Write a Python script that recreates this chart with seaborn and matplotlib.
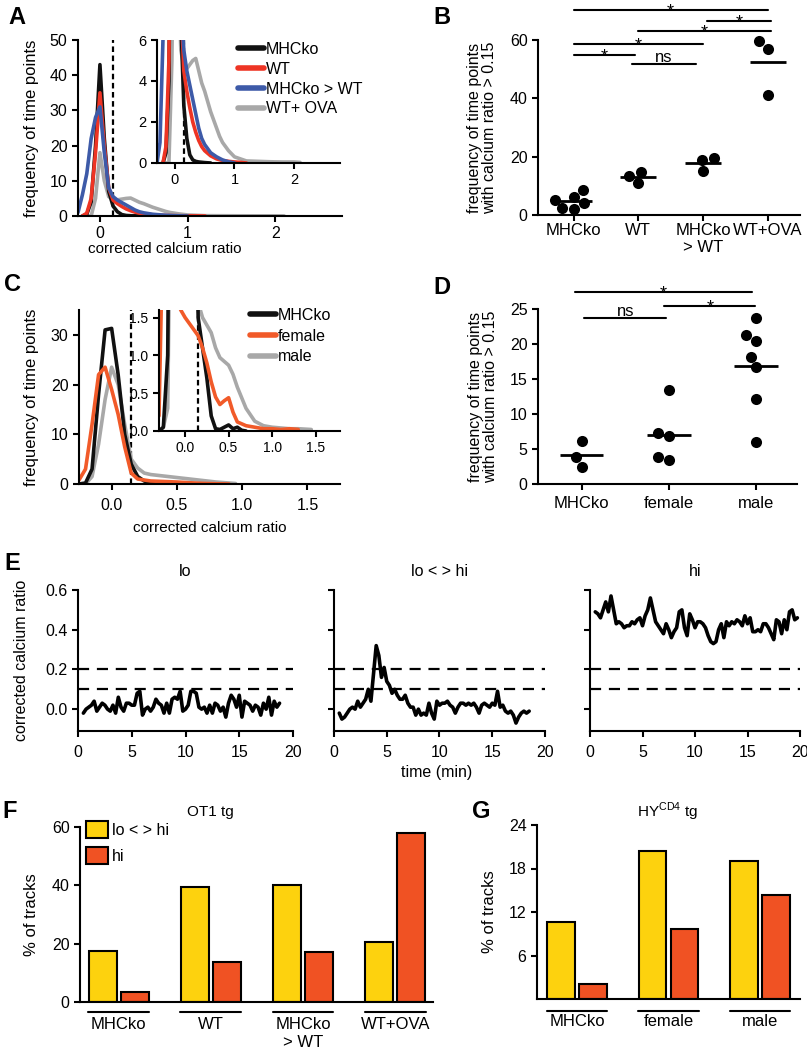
"""
Calcium-ratio figure: histograms (A, C), per-mouse frequencies (B, D),
example traces (E) and track classes (F, G).
"""
import numpy as np
import pandas as pd
import matplotlib
matplotlib.use("Agg")
import matplotlib.pyplot as plt
import matplotlib.transforms as mtransforms
from matplotlib import font_manager
from matplotlib.ticker import FormatStrFormatter
import seaborn as sns

sns.set_style("ticks")
plt.rcParams["font.family"] = ["Liberation Sans", "DejaVu Sans"]
plt.rcParams.update({
    "axes.linewidth": 1.5, "axes.edgecolor": "black",
    "xtick.color": "black", "ytick.color": "black",
    "xtick.major.width": 1.5, "ytick.major.width": 1.5,
    "xtick.major.size": 4, "ytick.major.size": 4,
    "xtick.labelsize": 11.5, "ytick.labelsize": 11.5,
    "axes.labelsize": 12, "text.color": "black", "axes.labelcolor": "black",
})
_names = {f.name for f in font_manager.fontManager.ttflist}
NARROW = ["Liberation Sans Narrow", "Liberation Sans"] if "Liberation Sans Narrow" in _names \
    else ["Liberation Sans", "DejaVu Sans"]

BLACK, RED, BLUE, GREY = "#111111", "#EE3424", "#3D5AA8", "#A8A8A8"
ORANGE, YELLOW, BARRED = "#F15A29", "#FDD20E", "#F05223"

# %% data -------------------------------------------------------------------
# A: frequency of time points (%) vs corrected calcium ratio
a_mhcko_x = [-0.2, -0.15, -0.1, -0.05, 0.0, 0.05, 0.1, 0.15, 0.2, 0.25, 0.3, 0.35, 0.4, 0.5, 0.6]
a_mhcko_y = [0, 0.5, 4, 20, 43, 22, 7, 2.8, 1.2, 0.4, 0.15, 0.08, 0.05, 0.02, 0]
a_wt_x = [-0.2, -0.15, -0.1, -0.05, 0.0, 0.05, 0.1, 0.15, 0.2, 0.25, 0.3, 0.35, 0.4, 0.45,
          0.5, 0.6, 0.7, 0.8, 0.9, 1.0, 1.1, 1.2]
a_wt_y = [0, 0.8, 5, 18, 35, 20, 8, 4.5, 3.5, 2.7, 2.0, 1.5, 1.1, 0.8,
          0.6, 0.35, 0.2, 0.12, 0.08, 0.05, 0.03, 0]
a_mix_x = [-0.3, -0.25, -0.2, -0.15, -0.1, -0.05, 0.0, 0.05, 0.1, 0.15, 0.2, 0.25, 0.3, 0.35,
           0.4, 0.45, 0.5, 0.6, 0.7, 0.8, 0.9, 1.0]
a_mix_y = [0, 1, 6, 12, 22, 28, 31, 18, 8, 5.5, 4.5, 3.8, 3.1, 2.4,
           1.7, 1.2, 0.9, 0.5, 0.3, 0.15, 0.06, 0]
a_ova_x = [-0.15, -0.1, -0.05, 0.0, 0.05, 0.1, 0.15, 0.2, 0.25, 0.3, 0.35, 0.4, 0.45, 0.5,
           0.55, 0.6, 0.65, 0.7, 0.75, 0.8, 0.9, 1.0, 1.1, 1.2, 1.4, 1.6, 1.8, 2.0, 2.1]
a_ova_y = [0, 0, 5, 18, 10, 5.5, 4.7, 4.6, 4.8, 5.0, 5.1, 4.5, 3.9, 3.5,
           3.0, 2.5, 2.1, 1.7, 1.3, 1.0, 0.6, 0.3, 0.2, 0.1, 0.08, 0.06, 0.05, 0.05, 0.03]

# B: frequency of time points with ratio > 0.15, one value per mouse
b_groups = ["MHCko", "WT", "MHCko\n> WT", "WT+OVA"]
b_mhcko = [6.2, 8.5, 4.0, 2.3, 2.0, 5.3]
b_wt = [14.7, 11.0, 13.4]
b_mix = [19.5, 15.0, 18.8]
b_ova = [59.5, 57.0, 41.0]

# C: main histogram
c_mhcko_x = [-0.25, -0.2, -0.15, -0.1, -0.05, 0.0, 0.05, 0.1, 0.15, 0.2, 0.25, 0.3, 0.35, 0.4]
c_mhcko_y = [0, 0.2, 3, 18, 31, 31.3, 22, 10, 4, 1.5, 0.6, 0.2, 0.05, 0]
c_fem_x = [-0.25, -0.2, -0.15, -0.1, -0.05, 0.0, 0.05, 0.1, 0.15, 0.2, 0.25, 0.3, 0.4,
           0.5, 0.6, 0.7, 0.8, 0.9]
c_fem_y = [0.8, 3, 12, 22, 23.5, 19, 14, 7.5, 2.2, 1.0, 0.8, 0.6, 0.5,
           0.4, 0.25, 0.12, 0.05, 0]
c_male_x = [-0.2, -0.15, -0.1, -0.05, 0.0, 0.05, 0.1, 0.15, 0.2, 0.25, 0.3, 0.4, 0.5,
            0.6, 0.7, 0.8, 0.9, 0.95]
c_male_y = [0, 1.5, 8, 17, 23.5, 20, 12, 5, 3.2, 2.2, 1.9, 1.6, 1.3,
            1.0, 0.7, 0.4, 0.2, 0.1]
# C inset (tail, finer view)
ci_mhcko_x = [-0.3, -0.25, -0.2, -0.15, -0.1, 0.0, 0.1, 0.15, 0.2, 0.25, 0.3, 0.35, 0.4,
              0.45, 0.5, 0.55, 0.6, 0.65, 0.7]
ci_mhcko_y = [0, 0.05, 1.0, 8, 20, 30, 5, 1.5, 1.1, 0.7, 0.2, 0.03, 0.02,
              0.05, 0.08, 0.03, 0.05, 0.01, 0]
ci_fem_x = [-0.3, -0.25, -0.2, -0.1, -0.05, 0.0, 0.05, 0.1, 0.15, 0.2, 0.25, 0.3, 0.35,
            0.4, 0.45, 0.5, 0.55, 0.6, 0.7, 0.8, 0.9, 1.0, 1.1, 1.2, 1.3]
ci_fem_y = [0.2, 3, 2.2, 1.75, 1.6, 1.5, 1.42, 1.34, 1.26, 1.1, 0.9, 0.65, 0.45,
            0.35, 0.4, 0.44, 0.25, 0.12, 0.07, 0.05, 0.03, 0.03, 0.02, 0.03, 0.02]
ci_male_x = [-0.3, -0.25, -0.2, -0.15, 0.1, 0.15, 0.2, 0.3, 0.35, 0.4, 0.5, 0.55, 0.6,
             0.7, 0.8, 0.9, 1.0, 1.1, 1.2, 1.3, 1.45]
ci_male_y = [0, 0.05, 0.3, 5, 3, 1.7, 1.5, 1.3, 1.1, 0.97, 0.87, 0.75, 0.58,
             0.3, 0.13, 0.07, 0.05, 0.04, 0.03, 0.03, 0.02]

# D
d_groups = ["MHCko", "female", "male"]
d_mhcko = [6.1, 3.9, 2.5]
d_female = [13.4, 7.3, 6.9, 3.4, 3.9]
d_male = [23.7, 21.3, 20.4, 18.1, 16.7, 12.1, 6.0]

# E: example traces, one sample every 15 s starting at 0.5 min
e_t0, e_dt = 0.5, 0.25
e_lo = [-0.02, 0.00, 0.01, 0.02, 0.04, -0.01, 0.01, 0.03, 0.02, 0.00,
        -0.01, 0.02, -0.02, 0.06, 0.01, -0.01, 0.03, 0.03, 0.02, 0.02,
        0.08, 0.09, -0.03, 0.00, 0.01, -0.01, 0.01, 0.05, 0.03, 0.02,
        -0.02, 0.03, -0.02, 0.05, 0.06, 0.05, 0.09, -0.01, 0.00, 0.02,
        0.09, 0.09, 0.08, 0.01, 0.00, 0.01, -0.02, 0.02, -0.02, 0.03,
        0.02, -0.01, 0.01, -0.04, 0.03, 0.07, 0.05, 0.01, 0.07, -0.04,
        0.04, 0.03, 0.02, -0.01, 0.02, 0.01, -0.03, 0.03, 0.00, 0.06,
        -0.03, 0.04, 0.01, 0.03]
e_lohi = [-0.02, -0.05, -0.04, -0.02, 0.00, 0.01, 0.00, 0.04, 0.01, 0.03,
          0.05, 0.10, 0.04, 0.18, 0.32, 0.27, 0.16, 0.21, 0.14, 0.12,
          0.08, 0.10, 0.07, 0.05, 0.05, 0.07, 0.03, 0.01, 0.01, -0.03,
          0.00, -0.03, -0.02, -0.03, 0.03, -0.02, -0.05, 0.04, 0.02, 0.03,
          0.03, 0.04, 0.02, 0.01, -0.02, 0.01, 0.03, 0.03, 0.02, 0.03,
          0.02, 0.03, 0.01, -0.02, 0.02, 0.03, 0.02, 0.01, 0.03, 0.02,
          0.09, 0.01, 0.02, -0.01, -0.02, -0.01, -0.03, -0.07, -0.04, -0.02,
          -0.01, -0.02, -0.01]
e_hi = [0.49, 0.48, 0.46, 0.50, 0.54, 0.49, 0.57, 0.50, 0.43, 0.44,
        0.43, 0.41, 0.42, 0.42, 0.44, 0.43, 0.45, 0.46, 0.42, 0.47,
        0.50, 0.56, 0.50, 0.44, 0.42, 0.40, 0.38, 0.43, 0.40, 0.36,
        0.39, 0.41, 0.49, 0.50, 0.41, 0.37, 0.48, 0.45, 0.41, 0.44,
        0.44, 0.43, 0.41, 0.37, 0.34, 0.33, 0.34, 0.40, 0.43, 0.36,
        0.44, 0.42, 0.44, 0.43, 0.45, 0.44, 0.42, 0.47, 0.43, 0.46,
        0.39, 0.39, 0.40, 0.39, 0.43, 0.43, 0.41, 0.38, 0.35, 0.45,
        0.44, 0.38, 0.45, 0.40, 0.49, 0.50, 0.45, 0.46]

# F / G: % of tracks per class
f_groups = ["MHCko", "WT", "MHCko\n> WT", "WT+OVA"]
f_lohi = [17.5, 39.5, 40.0, 20.7]
f_hi = [3.4, 13.8, 17.2, 57.9]
g_groups = ["MHCko", "female", "male"]
g_lohi = [10.6, 20.4, 19.0]
g_hi = [2.1, 9.7, 14.3]
classes = ["lo < > hi", "hi"]

# significance brackets: (x from, x to, height, mark)
b_sig = [(0, 3, 70.2, "*"), (2.06, 3.05, 66.4, "*"), (1.0, 3.05, 63.0, "*"),
         (0, 2.0, 58.6, "*"), (0, 0.95, 54.8, "*"), (0.9, 1.9, 51.7, "ns")]
d_sig = [(-0.07, 1.95, 27.4, "*"), (0.95, 1.99, 25.4, "*"), (0.03, 0.97, 23.7, "ns")]

# %% layout helpers -----------------------------------------------------------
W, H = 807, 1050
fig = plt.figure(figsize=(W / 100, H / 100), dpi=100)


def box(x0, y0, x1, y1):
    return [x0 / W, 1 - y1 / H, (x1 - x0) / W, (y1 - y0) / H]


def clean(ax):
    sns.despine(ax=ax)
    ax.tick_params(direction="out")


def letter(x, y, s):
    fig.text(x / W, 1 - y / H, s, fontsize=17, fontweight="bold", ha="left", va="center")


def hist_panel(ax, series, lw=2.6):
    for x, y, c, lab in series:
        sns.lineplot(x=x, y=y, color=c, lw=lw, ax=ax, label=lab, legend=False)
    ax.axvline(0.15, color="black", lw=1.6, ls=(0, (2.5, 1.6)), zorder=0)
    ax.set_xlabel("")
    ax.set_ylabel("")
    ax.set_facecolor("none")
    clean(ax)


def dot_panel(ax, groups, values, sig, half):
    df = pd.DataFrame({"group": sum([[g] * len(v) for g, v in zip(groups, values)], []),
                       "value": sum(values, [])})
    sns.swarmplot(data=df, x="group", y="value", order=groups, color="black",
                  size=8, linewidth=0, ax=ax)
    for coll in ax.collections:
        coll.set_clip_on(False)
    means = df.groupby("group", sort=False)["value"].mean().reindex(groups).values
    pos = np.arange(len(groups))
    ax.hlines(means, pos - half, pos + half, color="black", lw=2)
    for x0, x1, y, mark in sig:
        ax.plot([x0, x1], [y, y], color="black", lw=1.5, clip_on=False)
        if mark == "*":
            ax.annotate(mark, ((x0 + x1) / 2, y), xytext=(0, -4.5), textcoords="offset points",
                        ha="center", va="baseline", fontsize=13, annotation_clip=False)
        else:
            ax.annotate(mark, ((x0 + x1) / 2, y), xytext=(0, 1.5), textcoords="offset points",
                        ha="center", va="baseline", fontsize=12, annotation_clip=False)
    ax.set_xlabel("")
    ax.set_ylabel("frequency of time points\nwith calcium ratio > 0.15", fontsize=11.5,
                  linespacing=1.05)
    ax.tick_params(axis="x", labelsize=12)
    clean(ax)


def bar_panel(ax, groups, lohi, hi, under_y):
    df = pd.DataFrame({"group": groups * 2,
                       "class": [classes[0]] * len(groups) + [classes[1]] * len(groups),
                       "pct": lohi + hi})
    sns.barplot(data=df, x="group", y="pct", hue="class", order=groups, hue_order=classes,
                palette=[YELLOW, BARRED], saturation=1, edgecolor="black", linewidth=1.5,
                width=0.7, gap=0.13, errorbar=None, ax=ax)
    trans = mtransforms.blended_transform_factory(ax.transData, ax.transAxes)
    for i in range(len(groups)):
        ax.plot([i - 0.33, i + 0.33], [under_y, under_y], color="black", lw=1.5,
                transform=trans, clip_on=False)
    ax.tick_params(axis="x", length=0, pad=11, labelsize=12)
    ax.set_xlabel("")
    ax.set_ylabel("% of tracks", fontsize=12)
    clean(ax)


# %% A ----------------------------------------------------------------------
ax_a = fig.add_axes(box(78, 40, 342, 216))
ax_ai = fig.add_axes(box(157, 40, 340, 163))
a_series = [(a_ova_x, a_ova_y, GREY, "WT+ OVA"), (a_mhcko_x, a_mhcko_y, BLACK, "MHCko"),
            (a_wt_x, a_wt_y, RED, "WT"), (a_mix_x, a_mix_y, BLUE, "MHCko > WT")]
for ax in (ax_a, ax_ai):
    hist_panel(ax, a_series)
ax_a.set(xlim=(-0.25, 2.76), ylim=(0, 50), xticks=[0, 1, 2], yticks=range(0, 51, 10))
ax_ai.set(xlim=(-0.3, 2.77), ylim=(0, 6), xticks=[0, 1, 2], yticks=[0, 2, 4, 6])
ax_ai.tick_params(labelsize=10.5)
ax_a.tick_params(axis="x", pad=3)
ax_a.set_ylabel("frequency of time points", fontsize=12)
ax_a.yaxis.set_label_coords(-0.148, 0.5)
ax_a.set_xlabel("corrected calcium ratio", fontsize=11)
ax_a.xaxis.set_label_coords(0.33, -0.15)
ax_a.xaxis.label.set_va("top")
hd = dict(zip(*ax_a.get_legend_handles_labels()[::-1]))
a_order = ["MHCko", "WT", "MHCko > WT", "WT+ OVA"]
leg = ax_ai.legend([hd[k] for k in a_order], a_order, loc="upper left",
                   bbox_to_anchor=(238 / W, 1 - 42 / H), bbox_transform=fig.transFigure,
                   frameon=False, handlelength=1.6, handletextpad=0.15, labelspacing=0.3,
                   borderaxespad=0, borderpad=0, fontsize=11.5)
for ln in leg.get_lines():
    ln.set_linewidth(4)
letter(8, 18, "A")

# %% B ----------------------------------------------------------------------
ax_b = fig.add_axes(box(538, 40, 800, 215))
dot_panel(ax_b, b_groups, [b_mhcko, b_wt, b_mix, b_ova], b_sig, 0.28)
ax_b.set(xlim=(-0.55, 3.5), ylim=(0, 60), yticks=[0, 20, 40, 60])
ax_b.tick_params(axis="x", pad=1.5)
ax_b.yaxis.set_label_coords(-0.156, 0.5)
letter(433, 18, "B")

# %% C ----------------------------------------------------------------------
ax_c = fig.add_axes(box(79, 310, 340, 484))
ax_ci = fig.add_axes(box(159, 310, 340, 431))
hist_panel(ax_c, [(c_male_x, c_male_y, GREY, "male"), (c_mhcko_x, c_mhcko_y, BLACK, "MHCko"),
                  (c_fem_x, c_fem_y, ORANGE, "female")])
hist_panel(ax_ci, [(ci_male_x, ci_male_y, GREY, "male"),
                   (ci_mhcko_x, ci_mhcko_y, BLACK, "MHCko"),
                   (ci_fem_x, ci_fem_y, ORANGE, "female")])
ax_c.set(xlim=(-0.25, 1.75), ylim=(0, 35), xticks=[0, 0.5, 1.0, 1.5], yticks=[0, 10, 20, 30])
ax_ci.set(xlim=(-0.3, 1.78), ylim=(0, 1.6), xticks=[0, 0.5, 1.0, 1.5],
          yticks=[0, 0.5, 1.0, 1.5])
ax_c.xaxis.set_major_formatter(FormatStrFormatter("%.1f"))
ax_ci.xaxis.set_major_formatter(FormatStrFormatter("%.1f"))
ax_ci.yaxis.set_major_formatter(FormatStrFormatter("%.1f"))
ax_ci.tick_params(labelsize=10)
ax_c.tick_params(axis="x", pad=6)
ax_c.set_ylabel("frequency of time points", fontsize=12)
ax_c.yaxis.set_label_coords(-0.153, 0.5)
ax_c.set_xlabel("corrected calcium ratio", fontsize=11, family=NARROW)
ax_c.xaxis.set_label_coords(0.5, -0.21)
ax_c.xaxis.label.set_va("top")
hd = dict(zip(*ax_c.get_legend_handles_labels()[::-1]))
c_order = ["MHCko", "female", "male"]
leg = ax_ci.legend([hd[k] for k in c_order], c_order, loc="upper left",
                   bbox_to_anchor=(250 / W, 1 - 308 / H), bbox_transform=fig.transFigure,
                   frameon=False, handlelength=1.6, handletextpad=0.15, labelspacing=0.35,
                   borderaxespad=0, borderpad=0, fontsize=11.5)
for ln in leg.get_lines():
    ln.set_linewidth(4)
letter(4, 285, "C")

# %% D ----------------------------------------------------------------------
ax_d = fig.add_axes(box(538, 309, 797, 484))
dot_panel(ax_d, d_groups, [d_mhcko, d_female, d_male], d_sig, 0.25)
ax_d.set(xlim=(-0.5, 2.47), ylim=(0, 25), yticks=range(0, 26, 5))
ax_d.tick_params(axis="x", pad=5)
ax_d.yaxis.set_label_coords(-0.154, 0.5)
letter(433, 288, "D")

# %% E ----------------------------------------------------------------------
e_boxes = [(78, 293), (334, 545), (590, 800)]
e_traces = [("lo", e_lo), ("lo < > hi", e_lohi), ("hi", e_hi)]
for k, ((x0, x1), (title, vals)) in enumerate(zip(e_boxes, e_traces)):
    ax = fig.add_axes(box(x0, 590, x1, 731))
    t = e_t0 + e_dt * np.arange(len(vals))
    sns.lineplot(x=t, y=vals, color="black", lw=2.6, ax=ax)
    for level in (0.1, 0.2):
        ax.axhline(level, color="black", lw=1.6, ls=(0, (5, 3.5)), zorder=0)
    ax.set(xlim=(0, 20), ylim=(-0.11, 0.6), xticks=range(0, 21, 5),
           yticks=[0, 0.2, 0.4, 0.6])
    ax.set_title(title, fontsize=11.5, family=NARROW, pad=10)
    for lab in ax.get_xticklabels() + ax.get_yticklabels():
        lab.set_family(NARROW)
        lab.set_fontsize(11.5)
    ax.tick_params(axis="x", pad=6)
    if k == 0:
        ax.yaxis.set_major_formatter(FormatStrFormatter("%.1f"))
        ax.set_ylabel("corrected calcium ratio", fontsize=11.5)
        ax.yaxis.set_label_coords(-0.23, 0.5)
    else:
        ax.set_yticklabels([])
    clean(ax)
fig.text(437 / W, 1 - 772 / H, "time (min)", ha="center", va="center", fontsize=11.5)
letter(4, 563, "E")

# %% F / G --------------------------------------------------------------------
ax_f = fig.add_axes(box(80, 827, 433, 1002))
bar_panel(ax_f, f_groups, f_lohi, f_hi, -0.057)
ax_f.set(xlim=(-0.42, 3.41), ylim=(0, 60), yticks=[0, 20, 40, 60])
ax_f.yaxis.set_label_coords(-0.116, 0.5)
h, l = ax_f.get_legend_handles_labels()
ax_f.legend(h, l, loc="upper left", bbox_to_anchor=(86 / W, 1 - 821 / H),
            bbox_transform=fig.transFigure, frameon=False, handlelength=1.35,
            handleheight=1.25, handletextpad=0.25, labelspacing=0.6,
            borderaxespad=0, borderpad=0, fontsize=11.5)
fig.text(210 / W, 1 - 812 / H, "OT1 tg", ha="center", va="center", fontsize=11)
letter(2, 812, "F")

ax_g = fig.add_axes(box(537, 825, 800, 999))
bar_panel(ax_g, g_groups, g_lohi, g_hi, -0.069)
ax_g.get_legend().remove()
ax_g.set(xlim=(-0.44, 2.44), ylim=(0, 24), yticks=[6, 12, 18, 24])
ax_g.yaxis.set_label_coords(-0.152, 0.5)
fig.text(668 / W, 1 - 812 / H, r"HY$^{\mathregular{CD4}}$ tg", ha="center", va="center",
         fontsize=11)
letter(472, 812, "G")

fig.savefig("out.png", dpi=100)
